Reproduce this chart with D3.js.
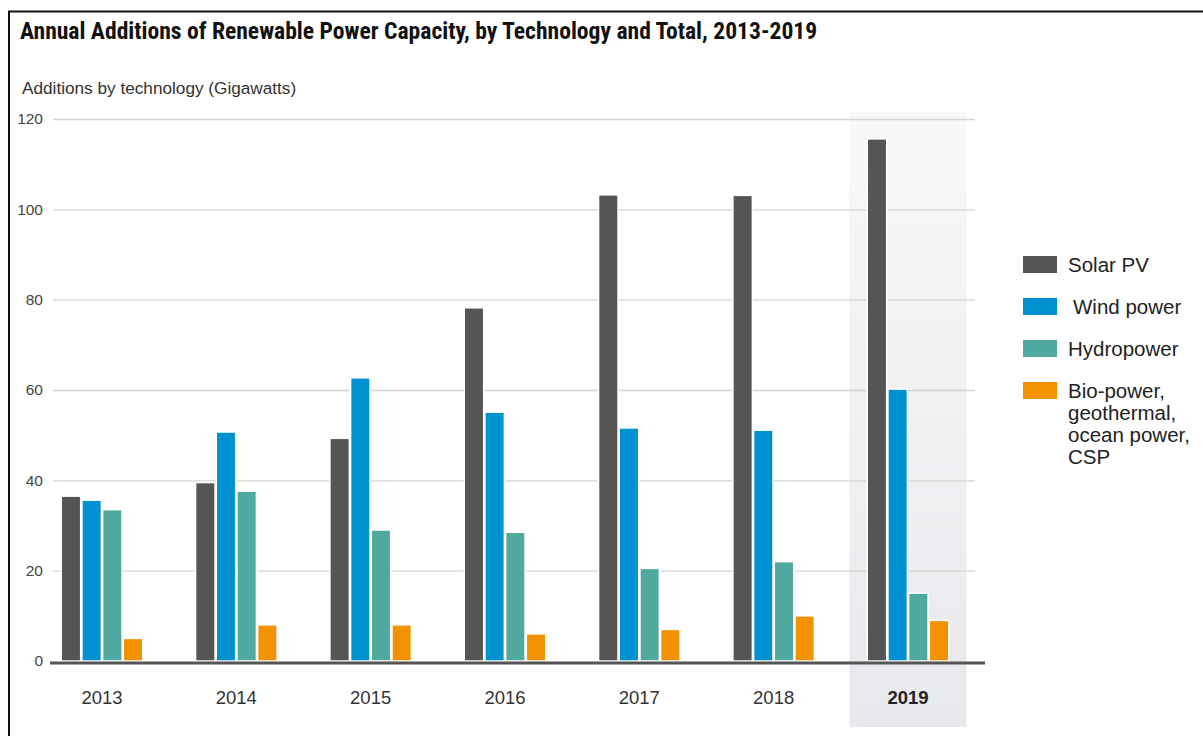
<!DOCTYPE html>
<html>
<head>
<meta charset="utf-8">
<script src="https://cdn.jsdelivr.net/npm/d3@7"></script>
<style>
  html, body { margin: 0; padding: 0; background: #fff; }
  svg { display: block; }
</style>
</head>
<body>
<svg id="chart" width="1203" height="736"></svg>
<script>
// Annual additions (GW) per technology, 2013-2019
const years = ["2013", "2014", "2015", "2016", "2017", "2018", "2019"];
const solarPV = [36.5, 39.5, 49.3, 78.2, 103.2, 103.1, 115.6];
const windPower = [35.6, 50.7, 62.7, 55.1, 51.6, 51.1, 60.2];
const hydropower = [33.5, 37.6, 29.0, 28.5, 20.5, 22.0, 15.0];
const otherPower = [5.0, 8.0, 8.0, 6.0, 7.0, 10.0, 9.0];
const yTicks = [0, 20, 40, 60, 80, 100, 120];

const seriesNames = ["Solar PV", "Wind power", "Hydropower", "Bio-power,\ngeothermal,\nocean power,\nCSP"];
const seriesValues = [solarPV, windPower, hydropower, otherPower];
const seriesColors = ["#555555", "#0091d1", "#50a99e", "#f39200"];
const highlightYear = "2019";

const svg = d3.select("#chart");
const W = 1203, H = 736;
const margin = { top: 119, left: 53, right: 228, bottom: 75 };
const plotW = W - margin.left - margin.right;   // gridline length
const plotH = H - margin.top - margin.bottom;

// frame lines
svg.append("line").attr("x1", 8).attr("x2", W).attr("y1", 11.5).attr("y2", 11.5)
  .attr("stroke", "#111").attr("stroke-width", 2);
svg.append("line").attr("x1", 9).attr("x2", 9).attr("y1", 11).attr("y2", H)
  .attr("stroke", "#111").attr("stroke-width", 2);

// title + axis caption
svg.append("text").attr("x", 20).attr("y", 39)
  .attr("font-family", "'Liberation Sans Narrow', 'Roboto Condensed', 'Liberation Sans', sans-serif")
  .attr("font-weight", "bold").attr("font-size", 23.6).attr("fill", "#111")
  .text("Annual Additions of Renewable Power Capacity, by Technology and Total, 2013-2019");
svg.append("text").attr("x", 22).attr("y", 94)
  .attr("font-family", "'Liberation Sans Narrow', 'Liberation Sans', sans-serif")
  .attr("font-size", 17.2).attr("fill", "#333")
  .text("Additions by technology (Gigawatts)");

const g = svg.append("g").attr("transform", `translate(${margin.left},${margin.top})`);

// year group centres, bar slots within each group
const x0 = d3.scalePoint().domain(years).range([49, 855]);
const groupW = 84;
const x1 = d3.scaleBand().domain(d3.range(seriesNames.length)).range([-groupW / 2, groupW / 2]).padding(0.06);
const y = d3.scaleLinear().domain([0, 120]).range([plotH, 0]);

// highlighted year background
const defs = svg.append("defs");
const grad = defs.append("linearGradient").attr("id", "hlGrad").attr("x1", 0).attr("x2", 0).attr("y1", 0).attr("y2", 1);
grad.append("stop").attr("offset", "0%").attr("stop-color", "#f7f8f9");
grad.append("stop").attr("offset", "100%").attr("stop-color", "#e7e9ec");
g.append("rect")
  .attr("x", x0(highlightYear) - 58.5)
  .attr("width", 117)
  .attr("y", -7)
  .attr("height", plotH + 7 + 66)
  .attr("fill", "url(#hlGrad)");

// gridlines + y labels
const yAxis = d3.axisLeft(y).tickValues(yTicks).tickSize(-plotW).tickPadding(10);
const ya = g.append("g").call(yAxis);
ya.select(".domain").remove();
ya.selectAll(".tick line").attr("stroke", "#d4d4d4").attr("stroke-width", 1.3);
ya.selectAll(".tick text")
  .attr("font-family", "'Liberation Sans', Arial, sans-serif")
  .attr("font-size", 15.5).attr("fill", "#444");
ya.selectAll(".tick").filter(d => d === 0).select("line").remove();

// bars
const groups = g.selectAll(".year").data(years).join("g")
  .attr("class", "year")
  .attr("transform", d => `translate(${x0(d)},0)`);

groups.selectAll("rect.bar")
  .data((yr, i) => seriesValues.map((vals, s) => ({ s, v: vals[i] })))
  .join("rect")
  .attr("class", "bar")
  .attr("x", d => x1(d.s))
  .attr("width", x1.bandwidth())
  .attr("y", d => y(d.v))
  .attr("height", d => y(0) - y(d.v))
  .attr("fill", d => seriesColors[d.s])
  .attr("stroke", "#fff").attr("stroke-width", 1.5);

// baseline
g.append("line")
  .attr("x1", -3).attr("x2", 932)
  .attr("y1", y(0) + 2).attr("y2", y(0) + 2)
  .attr("stroke", "#555").attr("stroke-width", 3);

// year labels
g.selectAll(".ylabel").data(years).join("text")
  .attr("x", d => x0(d))
  .attr("y", plotH + 43)
  .attr("text-anchor", "middle")
  .attr("font-family", "'Liberation Sans', Arial, sans-serif")
  .attr("font-size", 18.5)
  .attr("font-weight", d => d === highlightYear ? "bold" : "normal")
  .attr("fill", d => d === highlightYear ? "#222" : "#333")
  .text(d => d);

// legend
const legendY = [256, 298, 340, 382];
const legendTextX = [1068, 1073, 1068, 1068];
const legend = svg.append("g");
seriesNames.forEach((name, i) => {
  legend.append("rect")
    .attr("x", 1023).attr("y", legendY[i])
    .attr("width", 34).attr("height", 17)
    .attr("fill", seriesColors[i]);
  const t = legend.append("text")
    .attr("x", legendTextX[i]).attr("y", legendY[i] + 16)
    .attr("font-family", "'Liberation Sans', Arial, sans-serif")
    .attr("font-size", 20.5).attr("fill", "#222");
  name.split("\n").forEach((line, k) => {
    t.append("tspan").attr("x", legendTextX[i]).attr("dy", k === 0 ? 0 : 22).text(line);
  });
});
</script>
</body>
</html>
